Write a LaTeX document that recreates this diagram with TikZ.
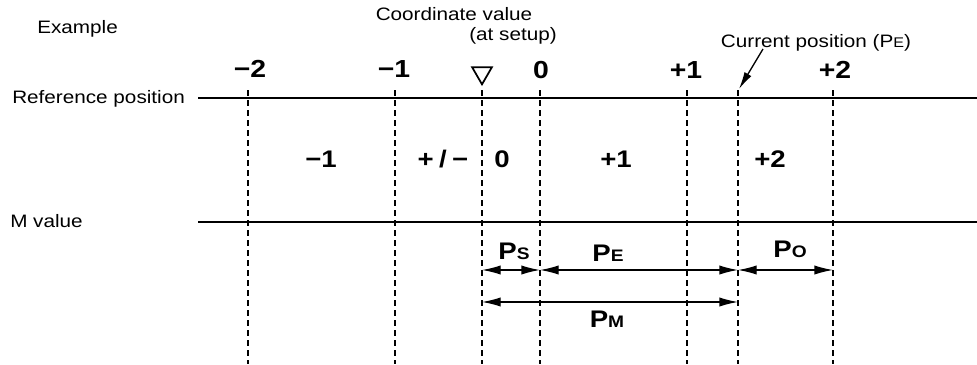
\documentclass[tikz,border=0pt]{standalone}
\usepackage{fontspec}
\setmainfont{Liberation Sans}[FakeStretch=1.15]
\usetikzlibrary{arrows.meta, shapes.geometric, positioning}

\begin{document}
\begin{tikzpicture}[x=0.75pt, y=-0.75pt, thin]

\tikzstyle{txt} = [font=\fontsize{13.5}{16}\selectfont, inner sep=0pt, anchor=base]
\tikzstyle{tick} = [font=\fontsize{18.5}{20}\selectfont\bfseries, inner sep=0pt, anchor=base]
\tikzstyle{zone} = [font=\fontsize{18}{20}\selectfont\bfseries, inner sep=0pt, anchor=base]
\tikzstyle{plabel} = [font=\fontsize{18}{20}\selectfont\bfseries, inner sep=0pt, anchor=base]
\tikzstyle{guide} = [dash pattern=on 4.5pt off 3pt, line width=0.8pt]
\tikzstyle{axis} = [line width=1.6pt]
\tikzstyle{span} = [line width=1pt, {Latex[length=14pt,width=7pt]}-{Latex[length=14pt,width=7pt]}]

\newcommand{\sub}[1]{{\fontsize{12.5}{14}\selectfont #1}}
\newcommand{\txtsub}[1]{{\fontsize{10.5}{12}\selectfont #1}}

\useasboundingbox (0,0) rectangle (977,364);

% Nodes
\node[txt, anchor=base west] (example) at (37,33) {Example};
\node[txt] (coordval) at (454,21) {Coordinate value};
\node[txt] (atsetup) at (513,40) {(at setup)};
\node[txt] (curpos) at (816,47) {Current position (P\txtsub{E})};
\node[txt, anchor=base west] (refpos) at (12,103) {Reference position};
\node[txt, anchor=base west] (mvalue) at (10,227) {M value};

\node[tick] (tm2) at (250,77) {−2};
\node[tick] (tm1) at (394,77) {−1};
\node[draw, line width=1.3pt, regular polygon, regular polygon sides=3, shape border rotate=180,
      minimum size=17pt, inner sep=0pt] (setup) at (482,73) {};
\node[tick] (tz) at (541,78) {0};
\node[tick] (tp1) at (686,78) {+1};
\node[tick] (tp2) at (835,78) {+2};

\node[zone] (zm1) at (321,167) {−1};
\node[zone] (zpm) at (443,167) {+\kern4pt/\kern4pt−};
\node[zone] (zz) at (502,167) {0};
\node[zone] (zp1) at (616,167) {+1};
\node[zone] (zp2) at (770,167) {+2};

\node[plabel] (ps) at (514,259) {P\sub{S}};
\node[plabel] (pe) at (608,261) {P\sub{E}};
\node[plabel] (po) at (790,257) {P\sub{O}};
\node[plabel] (pm) at (607,327) {P\sub{M}};

% Guides
\foreach \name/\x in {gm2/248, gm1/395, gset/482, gz/540, gp1/687, gcur/738, gp2/833} {
  \coordinate (\name-top) at (\x,90);
  \coordinate (\name-bot) at (\x,364);
  \draw[guide] (\name-top) -- (\name-bot);
}

\coordinate (refstart) at (198,98);
\coordinate (refend) at (977,98);
\coordinate (mstart) at (198,222);
\coordinate (mend) at (977,222);
\coordinate (row1) at (0,270);
\coordinate (row2) at (0,302);
\coordinate (curtail) at (763,49);
\coordinate (curtip) at (739,89);

% Connections
\draw[axis] (refstart) -- (refend);
\draw[axis] (mstart) -- (mend);
\draw[line width=1pt, -{Latex[length=13pt,width=6pt]}] (curtail) -- (curtip);

\draw[span] (gset-top |- row1) -- (gz-top |- row1);
\draw[span] (gz-top |- row1) -- (gcur-top |- row1);
\draw[span] (gcur-top |- row1) -- (gp2-top |- row1);
\draw[span] (gset-top |- row2) -- (gcur-top |- row2);

\end{tikzpicture}
\end{document}
